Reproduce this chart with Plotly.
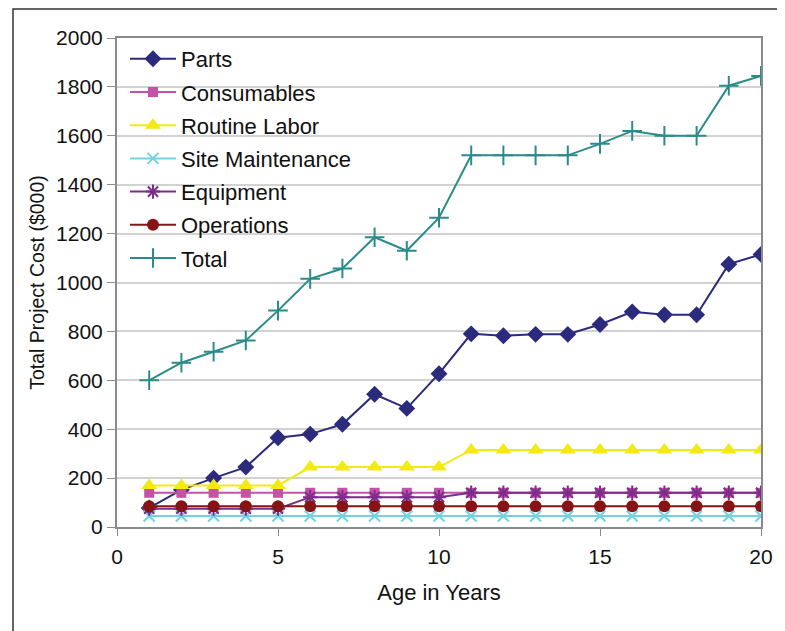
import plotly.graph_objects as go

years = list(range(1, 21))
parts = [78, 152, 200, 245, 365, 380, 420, 543, 485, 627, 790, 782, 788, 788, 828, 880, 868, 868, 1075, 1115]
consumables = [140] * 20
routine_labor = [170, 170, 170, 170, 170, 245, 245, 245, 245, 245, 315, 315, 315, 315, 315, 315, 315, 315, 315, 315]
site_maintenance = [45] * 20
equipment = [75, 75, 75, 75, 75, 122, 122, 122, 122, 122, 140, 140, 140, 140, 140, 140, 140, 140, 140, 140]
operations = [85] * 20
total = [600, 672, 717, 763, 885, 1015, 1057, 1185, 1130, 1265, 1520, 1520, 1520, 1520, 1567, 1620, 1600, 1600, 1805, 1845]

series = [
    ("Parts", parts, "#2B2A7C", "diamond", 13, 0),
    ("Consumables", consumables, "#C452A8", "square", 10, 0),
    ("Routine Labor", routine_labor, "#F2EA12", "triangle-up", 14, 0),
    ("Site Maintenance", site_maintenance, "#72D2E2", "x-thin-open", 11, 2),
    ("Equipment", equipment, "#7E2C8C", "asterisk-open", 12, 2),
    ("Operations", operations, "#861414", "circle", 12, 0),
    ("Total", total, "#2A8C8A", "cross-thin-open", 14, 2),
]

fig = go.Figure()
for name, vals, color, sym, size, lw in series:
    marker = dict(symbol=sym, size=size, color=color)
    if lw:
        marker["line"] = dict(color=color, width=lw)
    fig.add_trace(go.Scatter(
        x=years, y=vals, name=name, mode="lines+markers", legendgroup=name,
        line=dict(color=color, width=2), marker=marker,
    ))

fig.update_layout(
    width=777, height=623,
    margin=dict(l=109, r=24, t=30, b=104),
    paper_bgcolor="white", plot_bgcolor="white",
    font=dict(family="Liberation Sans, Arial, sans-serif", size=21, color="#111111"),
    showlegend=True,
    legend=dict(
        x=0.0124, y=1.0, xanchor="left", yanchor="top",
        bgcolor="rgba(0,0,0,0)", borderwidth=0,
        font=dict(size=22, color="#111111"),
        tracegroupgap=1.6, itemwidth=46,
    ),
    xaxis=dict(
        range=[0, 20], dtick=5, tick0=0,
        showline=True, linecolor="#8a8a8a", linewidth=2, mirror=True,
        ticks="outside", ticklen=7, tickcolor="#8a8a8a",
        ticklabelstandoff=3,
        showgrid=False, zeroline=False,
        title=dict(text="Age in Years", font=dict(size=22), standoff=17),
        tickfont=dict(size=21),
    ),
    yaxis=dict(
        range=[0, 2000], dtick=200, tick0=0,
        showline=True, linecolor="#8a8a8a", linewidth=2, mirror=True,
        ticks="outside", ticklen=8, tickcolor="#8a8a8a",
        showgrid=True, gridcolor="#d2d2d2", gridwidth=1.5, zeroline=False,
        title=dict(text="Total Project Cost ($000)", font=dict(size=19.5), standoff=6),
        tickfont=dict(size=21),
    ),
    shapes=[
        dict(type="rect", xref="paper", yref="paper",
             x0=-0.1615, x1=1.031, y0=-0.3, y1=1.0593,
             line=dict(color="#333333", width=1.5), layer="below"),
        dict(type="rect", xref="paper", yref="y",
             x0=0.014, x1=0.3696, y0=1500, y1=1975,
             fillcolor="white", line=dict(width=0), layer="between"),
        dict(type="rect", xref="paper", yref="y",
             x0=0.014, x1=0.2748, y0=1030, y1=1500,
             fillcolor="white", line=dict(width=0), layer="between"),
    ],
)

fig.write_html("out.html")
